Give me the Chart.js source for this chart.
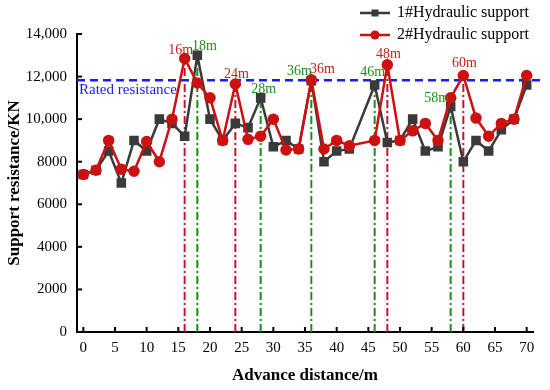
<!DOCTYPE html>
<html>
<head>
<meta charset="utf-8">
<style>
  html, body { margin: 0; padding: 0; background: #fff; }
  #wrap { width: 550px; height: 390px; }
</style>
<script src="https://cdn.jsdelivr.net/npm/chart.js@4.4.1/dist/chart.umd.min.js"></script>
</head>
<body>
<div id="wrap"><canvas id="myChart"></canvas></div>
<script>
'use strict';

// advance distance (m) – no reading at 44 m
const dist = [0, 2, 4, 6, 8, 10, 12, 14, 16, 18, 20, 22, 24, 26, 28, 30, 32, 34, 36, 38, 40, 42,
  46, 48, 50, 52, 54, 56, 58, 60, 62, 64, 66, 68, 70];
const support1 = [7400, 7600, 8500, 7000, 9000, 8500, 10000, 9800, 9200, 13000, 10000, 9000, 9800, 9600, 11000, 8700, 9000, 8600, 11800, 8000, 8500, 8600,
  11600, 8900, 9000, 10000, 8500, 8700, 10600, 8000, 9000, 8500, 9500, 10000, 11600];
const support2 = [7400, 7600, 9000, 7650, 7550, 8950, 8000, 10000, 12850, 11700, 11000, 9000, 11650, 9050, 9200, 10000, 8550, 8600, 11850, 8600, 9000, 8750,
  9000, 12550, 9000, 9450, 9800, 9000, 11000, 12050, 10050, 9200, 9800, 10000, 12050];
const seriesNames = ['1#Hydraulic support', '2#Hydraulic support'];
const ratedResistance = 11830;
const ratedLabel = 'Rated resistance';

// marked peaks: distance, which support (0 = 1#, 1 = 2#)
const markDist = [16, 18, 24, 28, 36, 36, 46, 48, 58, 60];
const markSeries = [1, 0, 1, 0, 0, 1, 0, 1, 0, 1];
const markText = ['16m', '18m', '24m', '28m', '36m', '36m', '46m', '48m', '58m', '60m'];

const xTicks = [0, 5, 10, 15, 20, 25, 30, 35, 40, 45, 50, 55, 60, 65, 70];
const yTicks = [0, 2000, 4000, 6000, 8000, 10000, 12000, 14000];
const yTickLabels = ['0', '2000', '4000', '6000', '8000', '10,000', '12,000', '14,000'];

// label placement relative to the marked point (px), and whether to draw the drop line
const markDx = [-4, 7, 1, 3, -12, 11, -2, 1, -14, 1];
const markDy = [-8, -9, -10, -9, -10, -10, -13, -11, -8, -12];
const markLine = [true, true, true, true, true, false, true, true, true, true];

const black = '#3a3a3a';
const red = '#cc1111';
const markColors = ['#1a8c1a', '#c0152a'];
const textColors = ['#1a8c1a', '#c41a1a'];
const blue = '#1a1aff';
const serif = "'Liberation Serif', 'Times New Roman', serif";

Chart.defaults.font.family = serif;
Chart.defaults.color = '#000';

const allSeries = [support1, support2];

const overlay = {
  id: 'overlay',
  beforeDatasetsDraw(chart) {
    const {ctx, chartArea, scales: {x, y}} = chart;
    ctx.save();
    // drop lines
    ctx.lineWidth = 2;
    ctx.setLineDash([8, 3, 2, 3]);
    markDist.forEach((d, i) => {
      if (!markLine[i]) return;
      const v = allSeries[markSeries[i]][dist.indexOf(d)];
      const px = x.getPixelForValue(d);
      ctx.strokeStyle = markColors[markSeries[i]];
      ctx.beginPath();
      ctx.moveTo(px, chartArea.bottom);
      ctx.lineTo(px, y.getPixelForValue(v));
      ctx.stroke();
    });
    // rated line
    const yr = y.getPixelForValue(ratedResistance);
    ctx.strokeStyle = blue;
    ctx.lineWidth = 2.5;
    ctx.setLineDash([8, 5]);
    ctx.beginPath();
    ctx.moveTo(chartArea.left, yr);
    ctx.lineTo(chartArea.right + 10, yr);
    ctx.stroke();
    ctx.setLineDash([]);
    ctx.fillStyle = blue;
    ctx.font = '15px ' + serif;
    ctx.textAlign = 'left';
    ctx.textBaseline = 'middle';
    ctx.fillText(ratedLabel, chartArea.left + 2, yr + 10);
    ctx.restore();
  },
  afterDraw(chart) {
    const {ctx, chartArea, scales: {x, y}} = chart;
    ctx.save();
    // inward tick marks
    ctx.strokeStyle = '#000';
    ctx.lineWidth = 2;
    yTicks.forEach(v => {
      const py = y.getPixelForValue(v);
      ctx.beginPath();
      ctx.moveTo(chartArea.left, py);
      ctx.lineTo(chartArea.left + 5, py);
      ctx.stroke();
    });
    xTicks.forEach(v => {
      const px = x.getPixelForValue(v);
      ctx.beginPath();
      ctx.moveTo(px, chartArea.bottom);
      ctx.lineTo(px, chartArea.bottom - 5);
      ctx.stroke();
    });
    // peak labels
    ctx.font = '14px ' + serif;
    ctx.textAlign = 'center';
    ctx.textBaseline = 'middle';
    markDist.forEach((d, i) => {
      const v = allSeries[markSeries[i]][dist.indexOf(d)];
      ctx.fillStyle = textColors[markSeries[i]];
      ctx.fillText(markText[i], x.getPixelForValue(d) + markDx[i], y.getPixelForValue(v) + markDy[i]);
    });
    // legend
    const lx = chart.width - 190;
    const rows = [13, 35];
    chart.data.datasets.forEach((ds, i) => {
      const ly = rows[i];
      ctx.strokeStyle = ds.borderColor;
      ctx.lineWidth = 2.5;
      ctx.beginPath();
      ctx.moveTo(lx, ly);
      ctx.lineTo(lx + 30, ly);
      ctx.stroke();
      ctx.fillStyle = ds.pointBackgroundColor;
      if (ds.pointStyle === 'rect') {
        ctx.fillRect(lx + 15 - 3.5, ly - 3.5, 7, 7);
      } else {
        ctx.beginPath();
        ctx.arc(lx + 15, ly, 4.5, 0, Math.PI * 2);
        ctx.fill();
      }
      ctx.fillStyle = '#000';
      ctx.font = '16px ' + serif;
      ctx.textAlign = 'left';
      ctx.fillText(ds.label, lx + 37, ly);
    });
    ctx.restore();
  }
};

new Chart(document.getElementById('myChart'), {
  type: 'line',
  data: {
    datasets: [{
      label: seriesNames[0],
      data: dist.map((d, i) => ({x: d, y: support1[i]})),
      borderColor: black,
      backgroundColor: black,
      pointBackgroundColor: black,
      pointBorderColor: black,
      pointStyle: 'rect',
      pointRadius: 5,
      borderWidth: 2.5,
      order: 1
    }, {
      label: seriesNames[1],
      data: dist.map((d, i) => ({x: d, y: support2[i]})),
      borderColor: red,
      backgroundColor: red,
      pointBackgroundColor: red,
      pointBorderColor: red,
      pointStyle: 'circle',
      pointRadius: 4.5,
      borderWidth: 2.5,
      order: 0
    }]
  },
  options: {
    responsive: true,
    maintainAspectRatio: false,
    animation: false,
    layout: {padding: {top: 34, right: 17, bottom: 0, left: 0}},
    plugins: {legend: {display: false}, tooltip: {enabled: false}},
    scales: {
      x: {
        type: 'linear',
        min: -1,
        max: 71,
        afterBuildTicks: s => { s.ticks = xTicks.map(v => ({value: v})); },
        afterFit: s => { s.height = 58; },
        grid: {display: false, drawTicks: false},
        border: {display: true, color: '#000', width: 2},
        ticks: {font: {size: 15}, padding: 7, maxRotation: 0, autoSkip: false},
        title: {display: true, text: 'Advance distance/m', font: {size: 17, weight: 'bold'}, padding: {top: 4, bottom: 4}}
      },
      y: {
        min: 0,
        max: 14000,
        afterBuildTicks: s => { s.ticks = yTicks.map(v => ({value: v})); },
        afterFit: s => { s.width = 77; },
        grid: {display: false, drawTicks: false},
        border: {display: true, color: '#000', width: 2},
        ticks: {font: {size: 15}, padding: 10, callback: v => yTickLabels[yTicks.indexOf(v)]},
        title: {display: true, text: 'Support resistance/KN', font: {size: 17, weight: 'bold'}, padding: {top: 4, bottom: 4}}
      }
    }
  },
  plugins: [overlay]
});
</script>
</body>
</html>
